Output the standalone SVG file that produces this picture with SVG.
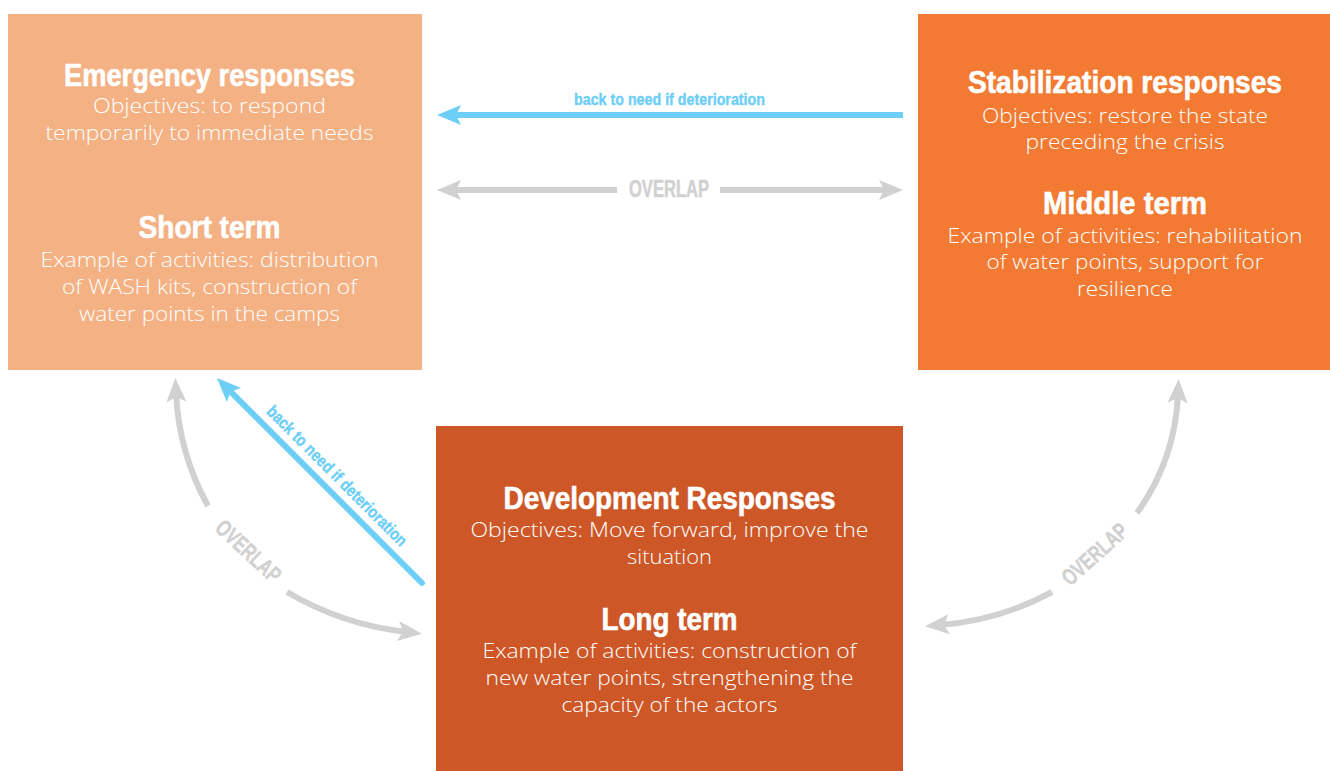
<svg xmlns="http://www.w3.org/2000/svg" width="1330" height="771" viewBox="0 0 1330 771">
<style>
.title{font-family:"Liberation Sans",Arial,sans-serif;font-weight:bold;font-size:31px;fill:#fff;stroke:#fff;stroke-width:0.6;text-anchor:middle}
.body{font-family:"Open Sans","Liberation Sans",sans-serif;font-weight:300;font-size:20px;fill:#fff;text-anchor:middle}
.blue-lbl{font-family:"Liberation Sans",Arial,sans-serif;font-weight:bold;font-size:17px;fill:#6DCFF6;stroke:#6DCFF6;stroke-width:0.4;text-anchor:middle}
.gray-lbl{font-family:"Liberation Sans",Arial,sans-serif;font-weight:bold;font-size:23px;fill:#D1D1D1;stroke:#D1D1D1;stroke-width:0.5;text-anchor:middle}
.blue{fill:none;stroke:#6DCFF6;stroke-width:6}
.gray{fill:none;stroke:#D1D1D1;stroke-width:6}
</style>
<defs>
<marker id="hb" viewBox="-12 -12 30 24" markerWidth="30" markerHeight="24" refX="0" refY="0" orient="auto" markerUnits="userSpaceOnUse">
<path d="M15,0 L-9,-10 L-4,0 L-9,10 Z" fill="#6DCFF6"/>
</marker>
<marker id="hg" viewBox="-12 -12 30 24" markerWidth="30" markerHeight="24" refX="0" refY="0" orient="auto" markerUnits="userSpaceOnUse">
<path d="M15,0 L-9,-10 L-4,0 L-9,10 Z" fill="#D1D1D1"/>
</marker>
</defs>
<rect width="1330" height="771" fill="#fff"/>

<g id="emergency">
<rect x="8" y="14" width="414" height="356" fill="#F4B183"/>
<text class="title" x="209.5" y="86" textLength="291" lengthAdjust="spacingAndGlyphs">Emergency responses</text>
<text class="body" x="209.5" y="113" textLength="233" lengthAdjust="spacingAndGlyphs">Objectives: to respond</text>
<text class="body" x="209.5" y="140" textLength="328" lengthAdjust="spacingAndGlyphs">temporarily to immediate needs</text>
<text class="title" x="209.5" y="238" textLength="142" lengthAdjust="spacingAndGlyphs">Short term</text>
<text class="body" x="209.5" y="267" textLength="338" lengthAdjust="spacingAndGlyphs">Example of activities: distribution</text>
<text class="body" x="209.5" y="294" textLength="295" lengthAdjust="spacingAndGlyphs">of WASH kits, construction of</text>
<text class="body" x="209.5" y="321" textLength="261" lengthAdjust="spacingAndGlyphs">water points in the camps</text>
</g>

<g id="stabilization">
<rect x="918" y="14" width="412" height="356" fill="#F27A32"/>
<text class="title" x="1125" y="93" textLength="314" lengthAdjust="spacingAndGlyphs">Stabilization responses</text>
<text class="body" x="1125" y="123" textLength="286" lengthAdjust="spacingAndGlyphs">Objectives: restore the state</text>
<text class="body" x="1125" y="149" textLength="199" lengthAdjust="spacingAndGlyphs">preceding the crisis</text>
<text class="title" x="1125" y="214" textLength="164" lengthAdjust="spacingAndGlyphs">Middle term</text>
<text class="body" x="1125" y="243" textLength="355" lengthAdjust="spacingAndGlyphs">Example of activities: rehabilitation</text>
<text class="body" x="1125" y="269" textLength="277" lengthAdjust="spacingAndGlyphs">of water points, support for</text>
<text class="body" x="1125" y="296" textLength="96" lengthAdjust="spacingAndGlyphs">resilience</text>
</g>

<g id="development">
<rect x="436" y="426" width="467" height="345" fill="#CD5727"/>
<text class="title" x="669.5" y="509" textLength="332" lengthAdjust="spacingAndGlyphs">Development Responses</text>
<text class="body" x="669.5" y="537" textLength="398" lengthAdjust="spacingAndGlyphs">Objectives: Move forward, improve the</text>
<text class="body" x="669.5" y="564" textLength="85" lengthAdjust="spacingAndGlyphs">situation</text>
<text class="title" x="669.5" y="630" textLength="136" lengthAdjust="spacingAndGlyphs">Long term</text>
<text class="body" x="669.5" y="658" textLength="374" lengthAdjust="spacingAndGlyphs">Example of activities: construction of</text>
<text class="body" x="669.5" y="685" textLength="368" lengthAdjust="spacingAndGlyphs">new water points, strengthening the</text>
<text class="body" x="669.5" y="712" textLength="216" lengthAdjust="spacingAndGlyphs">capacity of the actors</text>
</g>

<g id="connectors">
<path class="blue" d="M903,115 L452,115" marker-end="url(#hb)"/>
<text class="blue-lbl" x="669.5" y="105" textLength="191" lengthAdjust="spacingAndGlyphs">back to need if deterioration</text>
<path class="gray" d="M617,190 L452,190" marker-end="url(#hg)"/>
<path class="gray" d="M720,190 L888,190" marker-end="url(#hg)"/>
<text class="gray-lbl" x="669" y="197" textLength="80" lengthAdjust="spacingAndGlyphs">OVERLAP</text>
<path class="blue" d="M422,583 L227.6,388.6" stroke-linecap="round" marker-end="url(#hb)"/>
<text class="blue-lbl" x="333" y="480" transform="rotate(45 333 480)" textLength="191" lengthAdjust="spacingAndGlyphs">back to need if deterioration</text>
<path class="gray" d="M208,506 A260,260 0 0 1 176,393" marker-end="url(#hg)"/>
<path class="gray" d="M287,592 A300,300 0 0 0 407,632" marker-end="url(#hg)"/>
<text class="gray-lbl" x="243" y="557" transform="rotate(43 243 557)" textLength="80" lengthAdjust="spacingAndGlyphs">OVERLAP</text>
<path class="gray" d="M1137,513 A220,220 0 0 0 1178,394" marker-end="url(#hg)"/>
<path class="gray" d="M1052,592 A280,280 0 0 1 940,625" marker-end="url(#hg)"/>
<text class="gray-lbl" x="1100" y="560" transform="rotate(-42 1100 560)" textLength="80" lengthAdjust="spacingAndGlyphs">OVERLAP</text>
</g>
</svg>
